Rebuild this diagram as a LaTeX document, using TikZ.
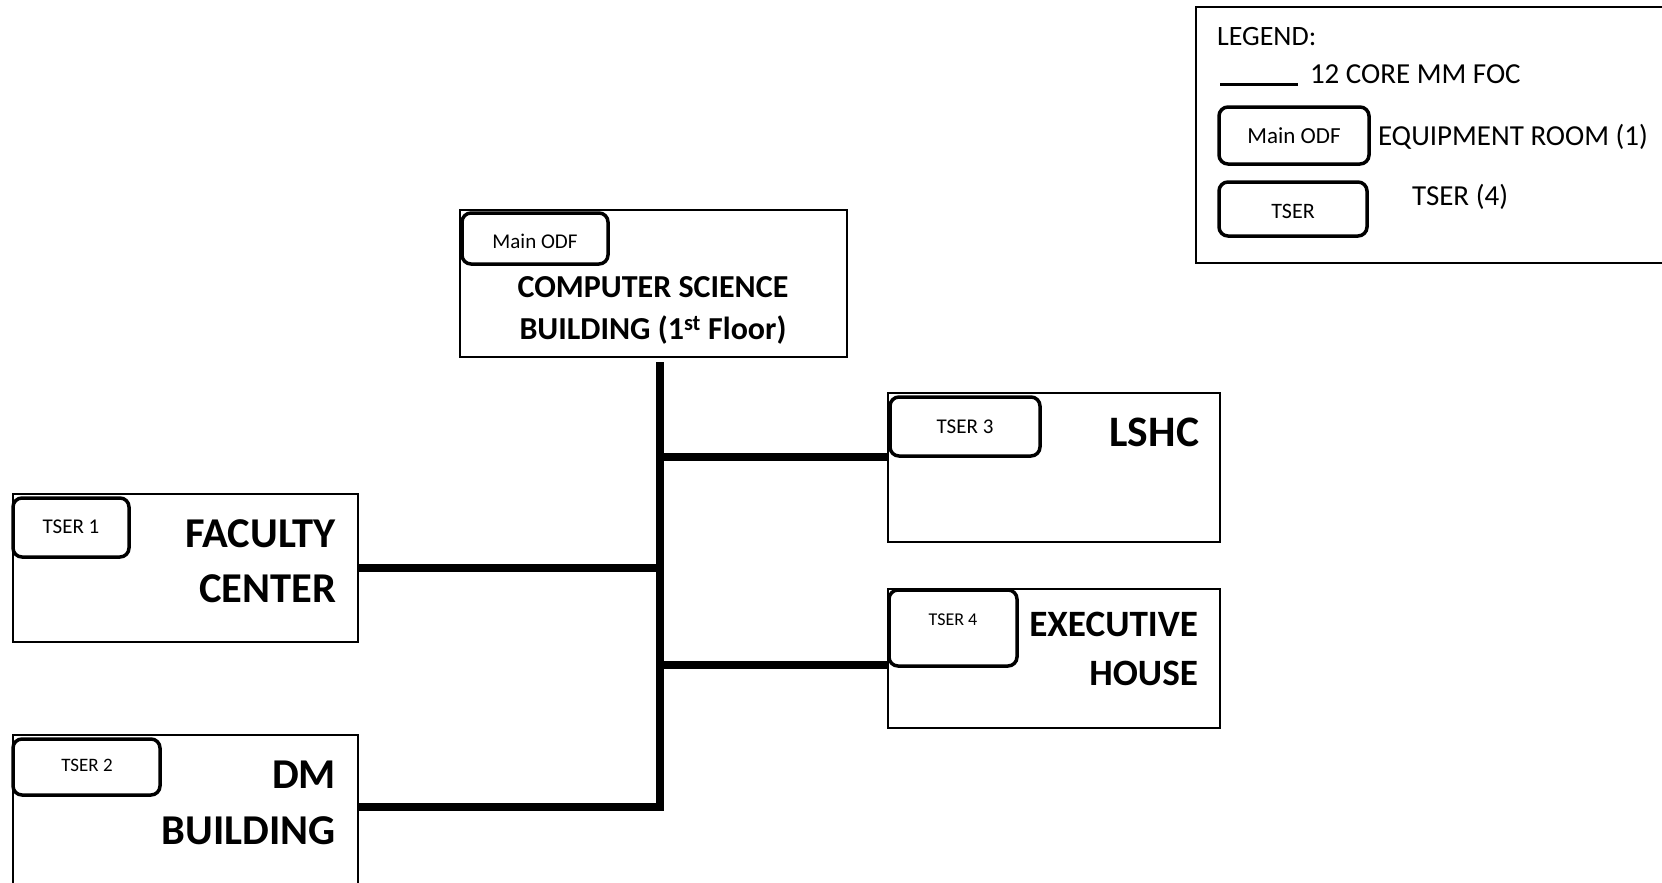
\documentclass[tikz,border=0pt]{standalone}
\usepackage{fontspec}
\setmainfont{Carlito}
\begin{document}
\begin{tikzpicture}[x=1pt,y=-1pt,
  bldg/.style={draw, line width=1.5pt, inner sep=0pt, outer sep=0pt, anchor=north west},
  rbox/.style={draw, line width=3.5pt, rounded corners=9pt, inner sep=0pt, outer sep=0pt, anchor=north west},
  fiber/.style={line width=8pt, line join=miter},
  lbl/.style={inner sep=0pt, outer sep=0pt},
  bigtxt/.style={lbl, anchor=base east, font=\fontsize{42.5}{42.5}\selectfont\bfseries},
  midtxt/.style={lbl, anchor=base east, font=\fontsize{37.2}{37.2}\selectfont\bfseries},
  cstxt/.style={lbl, anchor=base, font=\fontsize{32}{32}\selectfont\bfseries},
  tag/.style={lbl, anchor=base, font=\fontsize{21}{21}\selectfont},
  legtxt/.style={lbl, anchor=base west, font=\fontsize{29}{29}\selectfont}
]
\useasboundingbox (0,0) rectangle (1662,883);
\fill[white] (0,0) rectangle (1662,883);

% Legend
\node[bldg, minimum width=480pt, minimum height=256pt] (legend) at (1196,7) {};
\node[legtxt, font=\fontsize{28}{28}\selectfont] (legtitle) at (1217,46) {LEGEND:};
\coordinate (lga) at (1220,84);
\coordinate (lgb) at (1298,84);
\draw[line width=3pt] (lga) -- (lgb);
\node[legtxt] (legfoc) at (1310,84) {12 CORE MM FOC};
\node[rbox, minimum width=150pt, minimum height=57pt] (legodf) at (1219,107) {};
\node[tag, font=\fontsize{23}{23}\selectfont] (legodft) at (legodf.center) [yshift=-7.5pt] {Main ODF};
\node[legtxt] (legeq) at (1378,145) {EQUIPMENT ROOM (1)};
\node[rbox, minimum width=148pt, minimum height=54pt] (legtser) at (1219,182) {};
\node[tag, font=\fontsize{22}{22}\selectfont] (legtsert) at (1293,218) {TSER};
\node[legtxt] (legts) at (1412,205) {TSER (4)};

% Computer Science building
\node[bldg, minimum width=387pt, minimum height=147pt] (cs) at (460,210) {};
\node[rbox, minimum width=146pt, minimum height=51pt] (csodf) at (462,213) {};
\node[tag] (csodft) at (535,248) {Main ODF};
\node[cstxt] (cst1) at (653,297.5) {COMPUTER SCIENCE};
\node[cstxt] (cst2) at (653,339.5) {BUILDING (1\textsuperscript{st} Floor)};

% Faculty Center
\node[bldg, minimum width=345pt, minimum height=148pt] (fac) at (13,494) {};
\node[rbox, minimum width=116pt, minimum height=59pt] (t1) at (13,498) {};
\node[tag] (t1t) at (71,533) {TSER 1};
\node[bigtxt] (fact1) at (336,547) {FACULTY};
\node[bigtxt] (fact2) at (336,602) {CENTER};

% DM Building
\node[bldg, minimum width=345pt, minimum height=155pt] (dm) at (13,735) {};
\node[rbox, minimum width=147pt, minimum height=56pt] (t2) at (13,739) {};
\node[tag, font=\fontsize{19}{19}\selectfont] (t2t) at (87,771) {TSER 2};
\node[bigtxt] (dmt1) at (336,788) {DM};
\node[bigtxt] (dmt2) at (336,844) {BUILDING};

% LSHC
\node[bldg, minimum width=332pt, minimum height=149pt] (lshc) at (888,393) {};
\node[rbox, minimum width=150pt, minimum height=59pt] (t3) at (890,397) {};
\node[tag] (t3t) at (965,433) {TSER 3};
\node[bigtxt, font=\fontsize{43.5}{43.5}\selectfont\bfseries] (lshct) at (1199,446) {LSHC};

% Executive House
\node[bldg, minimum width=332pt, minimum height=139pt] (exe) at (888,589) {};
\node[rbox, minimum width=128pt, minimum height=76pt] (t4) at (889,590) {};
\node[tag, font=\fontsize{18}{18}\selectfont] (t4t) at (953,625) {TSER 4};
\node[midtxt] (exet1) at (1198,636) {EXECUTIVE};
\node[midtxt] (exet2) at (1198,685) {HOUSE};

% Fibre connectors
\coordinate (jtop) at (660,362);
\coordinate (jbot) at (660,807);
\coordinate (j3) at (660,457);
\coordinate (j4) at (660,665);
\draw[fiber] (jtop) -- (jbot) -- (jbot -| dm.east);
\draw[fiber] (fac.east) -- (fac.east -| jtop);
\draw[fiber] (j3) -- (j3 -| lshc.west);
\draw[fiber] (j4) -- (j4 -| exe.west);
\end{tikzpicture}
\end{document}
